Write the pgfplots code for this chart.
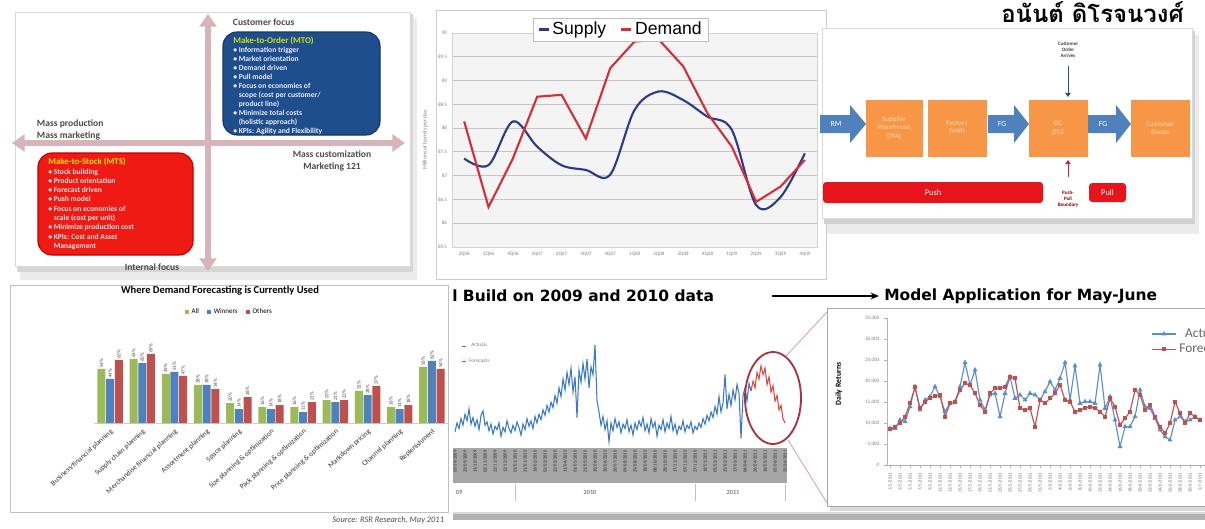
\documentclass[border=0pt]{standalone}
\usepackage{pgfplots}
\usepackage{pgfplotstable}
\pgfplotsset{compat=1.18}
\usepackage{fontspec}
\setmainfont{Carlito}
\newfontfamily\thaifont[Script=Thai]{Loma}
\newfontfamily\arialf{Liberation Sans}
\newfontfamily\dejaf{DejaVu Sans}
\usetikzlibrary{arrows.meta}
\pgfplotsset{/pgf/number format/assume math mode=true}
\definecolor{mtoblue}{HTML}{1F4E8C}
\definecolor{mtsred}{HTML}{F01A14}
\definecolor{quadpink}{HTML}{D6B4B9}
\definecolor{supblue}{HTML}{2B3A8A}
\definecolor{demred}{HTML}{D22F38}
\definecolor{xlgreen}{HTML}{9BBB59}
\definecolor{xlblue}{HTML}{4F81BD}
\definecolor{xlred}{HTML}{C0504D}
\definecolor{procorange}{HTML}{F79646}
\definecolor{procblue}{HTML}{4F81BD}
\definecolor{pushred}{HTML}{E8141B}
\definecolor{tsblue}{HTML}{3C79C2}
\definecolor{tsred}{HTML}{E2463C}
\definecolor{ellred}{HTML}{A8323E}
\definecolor{actblue}{HTML}{5B8FC9}
\definecolor{forred}{HTML}{C0504D}

\pgfplotstableread{
q supply demand
0 87.36 88.14
1 87.22 86.34
2 88.14 87.36
3 87.61 88.66
4 87.22 88.70
5 87.12 87.78
6 87.02 89.26
7 88.38 89.82
8 88.77 89.86
9 88.59 89.30
10 88.24 88.31
11 87.96 87.61
12 86.38 86.45
13 86.55 86.77
14 87.47 87.33
}\sdtable

\pgfplotstableread{
idx all win oth
0 54 44 63
1 64 60 69
2 49 51 47
3 38 38 34
4 20 14 26
5 16 14 18
6 16 11 21
7 23 21 23
8 32 28 37
9 16 14 18
10 56 62 54
}\bardata

\pgfplotstableread{
idx act for
0 8730 8490
1 8730 9130
2 10710 9920
3 10320 11510
4 13890 14680
5 18650 18490
6 13100 13490
7 15480 15080
8 16270 15870
9 18650 16430
10 16270 16670
11 12700 11510
12 14680 14680
13 15080 15080
14 18650 17860
15 24370 19440
16 19050 19050
17 22620 17060
18 15480 14290
19 13100 12700
20 16670 17060
21 17060 18250
22 11510 18250
23 17060 18650
24 21030 21030
25 15870 20630
26 16670 13490
27 15480 13100
28 17060 13490
29 16670 9130
30 15480 15480
31 17460 14680
32 19840 15870
33 17860 17060
34 20630 19050
35 24370 15480
36 15480 15080
37 23570 12700
38 14680 13100
39 15080 13490
40 15080 13890
41 14680 13490
42 23810 12700
43 13490 11510
44 16270 15870
45 10710 13890
46 4370 9520
47 9130 11110
48 9130 12700
49 11510 17860
50 17860 16670
51 13890 13100
52 13490 14290
53 11110 11510
54 8330 9130
55 6750 7540
56 5950 9920
57 10710 15080
58 11510 12300
59 10320 9920
60 10710 12300
61 11510 11510
62 10710 10710
}\afdata

\begin{document}
\begin{tikzpicture}[x=0.25mm,y=0.25mm]
\useasboundingbox (0,0) rectangle (1205,528);
\clip (0,0) rectangle (1205,528);
\begin{scope}[shift={(0,528)},yscale=-1]
\fill[white] (0,0) rectangle (1205,528);
% ---------- top-left quadrant panel
\fill[black!8] (20,18) rectangle (417,280);
\fill[black!16] (17,14) rectangle (413,272);
\fill[white, draw=black!15] (15,12) rectangle (410,266);
\draw[quadpink, line width=3.6pt, {Triangle[width=12pt,length=9pt]}-{Triangle[width=12pt,length=9pt]}] (12,143) -- (405,143);
\draw[quadpink, line width=3.6pt, {Triangle[width=12pt,length=9pt]}-{Triangle[width=12pt,length=9pt]}] (208,14) -- (208,271);
\fill[mtoblue, draw=mtoblue!70!black, line width=0.8pt, rounded corners=3.5mm] (223,32) rectangle (380,135);
\node[anchor=north west, align=left, font=\bfseries\fontsize{5.4}{6.4}\selectfont, text=white!92!blue, inner sep=0pt] at (233,37)
 {\textcolor{yellow!80!green}{\fontsize{6.3}{6.4}\selectfont Make-to-Order (MTO)}\\
  \textbullet\ Information trigger\\
  \textbullet\ Market orientation\\
  \textbullet\ Demand driven\\
  \textbullet\ Pull model\\
  \textbullet\ Focus on economies of\\
  \phantom{\textbullet\ }scope (cost per customer/\\
  \phantom{\textbullet\ }product line)\\
  \textbullet\ Minimize total costs\\
  \phantom{\textbullet\ }(holistic approach)\\
  \textbullet\ KPIs: Agility and Flexibility};
\fill[mtsred, draw=red!75!black, line width=0.8pt, rounded corners=3.5mm] (38,153) rectangle (193,255);
\node[anchor=north west, align=left, font=\bfseries\fontsize{5.4}{6.6}\selectfont, text=white!90!red, inner sep=0pt] at (48,158)
 {\textcolor{yellow!90!orange}{\fontsize{6.3}{6.6}\selectfont Make-to-Stock (MTS)}\\
  \textbullet\ Stock building\\
  \textbullet\ Product orientation\\
  \textbullet\ Forecast driven\\
  \textbullet\ Push model\\
  \textbullet\ Focus on economies of\\
  \phantom{\textbullet\ }scale (cost per unit)\\
  \textbullet\ Minimize production cost\\
  \textbullet\ KPIs: Cost and Asset\\
  \phantom{\textbullet\ }Management};
\node[anchor=west, font=\bfseries\fontsize{6.8}{8}\selectfont, text=black!70] at (228,22) {Customer focus};
\node[anchor=west, align=left, font=\bfseries\fontsize{6.8}{8}\selectfont, text=black!70] at (32,130) {Mass production\\Mass marketing};
\node[align=center, font=\bfseries\fontsize{6.8}{8}\selectfont, text=black!70] at (332,161) {Mass customization\\Marketing 121};
\node[font=\bfseries\fontsize{6.8}{8}\selectfont, text=black!70] at (152,267) {Internal focus};
% ---------- top-middle frame
\fill[white, draw=black!20] (436,10) rectangle (826,279);
% ---------- top-right process panel
\fill[black!8] (827,35) rectangle (1199,234);
\fill[black!18] (824,31) rectangle (1195,224);
\fill[white, draw=black!15] (822,28) rectangle (1192,218);
\node[anchor=east, font=\thaifont\bfseries\fontsize{17}{18}\selectfont, inner sep=0pt] at (1184,12) {อนันต์ ดิโรจนวงศ์};
\fill[procblue] (820,115) -- (850,115) -- (850,105) -- (866,124) -- (850,143) -- (850,133) -- (820,133) -- cycle;
\fill[procorange] (866,100) rectangle (923,157);
\fill[procorange] (928,100) rectangle (987,157);
\fill[procblue] (988,115) -- (1014,115) -- (1014,105) -- (1029,124) -- (1014,143) -- (1014,133) -- (988,133) -- cycle;
\fill[procorange] (1029,100) rectangle (1088,157);
\fill[procblue] (1088,115) -- (1116,115) -- (1116,105) -- (1131,124) -- (1116,143) -- (1116,133) -- (1088,133) -- cycle;
\fill[procorange] (1131,100) rectangle (1190,157);
\node[text=white, font=\fontsize{5.5}{6}\selectfont] at (836,124) {RM};
\node[text=white, font=\fontsize{5.5}{6}\selectfont] at (1002,124) {FG};
\node[text=white, font=\fontsize{5.5}{6}\selectfont] at (1103,124) {FG};
\node[align=center, text=orange!30, font=\fontsize{5}{6}\selectfont] at (894,128) {Supplier\\Warehouse\\(RM)};
\node[align=center, text=orange!30, font=\fontsize{5}{6}\selectfont] at (957,128) {Factory\\(WIP)};
\node[align=center, text=orange!30, font=\fontsize{5}{6}\selectfont] at (1058,128) {DC\\(FG)};
\node[align=center, text=orange!30, font=\fontsize{5}{6}\selectfont] at (1160,128) {Customer\\Stores};
\node[align=center, text=black!75, font=\bfseries\fontsize{3.6}{4.4}\selectfont] at (1068,50) {Customer\\Order\\Arrives};
\draw[-{Triangle[width=4pt,length=3pt]}, black!40!procblue, line width=0.7pt] (1068,66) -- (1068,97);
\draw[-{Triangle[width=4pt,length=3pt]}, ellred, line width=0.7pt] (1068,177) -- (1068,160);
\node[align=center, text=red!55!black, font=\bfseries\fontsize{3.6}{4.4}\selectfont] at (1068,199) {Push-\\Pull\\Boundary};
\fill[pushred, rounded corners=0.8mm] (823,182) rectangle (1043,203);
\node[text=white, font=\fontsize{6}{7}\selectfont] at (933,192.5) {Push};
\fill[pushred, rounded corners=0.8mm] (1089,183) rectangle (1126,202);
\node[text=white, font=\fontsize{6}{7}\selectfont] at (1107.5,192.5) {Pull};
% ---------- bottom-left panel
\fill[white, draw=black!25] (10,285) rectangle (448,512);
\node[anchor=east, font=\itshape\fontsize{6}{7}\selectfont, text=black!70] at (449,520) {Source: RSR Research, May 2011};
% ---------- bottom-right big panel
\fill[black!30] (453,509) rectangle (1205,520);
\fill[black!15] (453,505) rectangle (1205,514);
\fill[white] (450,283) rectangle (1205,512);
\fill[black!15] (830,311) rectangle (1210,511);
\fill[white, draw=black!35, line width=0.6pt] (827,308) rectangle (1215,506);
\node[anchor=west, font=\dejaf\bfseries\fontsize{11}{12}\selectfont, inner sep=0pt] at (452,296) {l Build on 2009 and 2010 data};
\draw[-{Stealth[length=6pt,width=5pt]}, line width=1pt] (772,296) -- (879,296);
\node[anchor=west, font=\dejaf\bfseries\fontsize{11}{12}\selectfont, inner sep=0pt] at (884,296) {Model Application for May-June};
\end{scope}

% ================= Supply / Demand
\begin{axis}[at={(113mm,70.25mm)}, anchor=south west, scale only axis,
  width=91.25mm, height=53.5mm,
  xmin=-0.5, xmax=14.5, ymin=85.5, ymax=90,
  xtick={0,...,14},
  xticklabels={2Q06,3Q06,4Q06,1Q07,2Q07,3Q07,4Q07,1Q08,2Q08,3Q08,4Q08,1Q09,2Q09,3Q09,4Q09},
  ytick={85.5,86,86.5,87,87.5,88,88.5,89,89.5,90},
  ymajorgrids, grid style={draw=gray!45, line width=0.7pt},
  axis background/.style={fill=gray!9},
  axis line style={draw=gray!35},
  major tick style={draw=none},
  tick label style={font=\fontsize{3.6}{4}\selectfont, text=gray},
  ylabel={Millions of barrels per day},
  ylabel style={font=\fontsize{4}{5}\selectfont, text=gray, at={(axis description cs:-0.074,0.5)}, anchor=center},
  legend style={at={(0.463,1.016)}, anchor=center, legend columns=2, draw=gray!50, fill=white,
    font=\arialf\fontsize{12.5}{14}\selectfont, inner xsep=3pt, inner ysep=1pt,
    /tikz/every even column/.append style={column sep=8pt}},
  legend image code/.code={\draw[#1, line width=1.6pt] (0pt,0pt) -- (7pt,0pt);},
]
\addplot[supblue, line width=1.5pt, smooth, tension=0.55] table[x=q, y=supply] {\sdtable};
\addlegendentry{Supply}
\addplot[demred, line width=1.5pt] table[x=q, y=demand] {\sdtable};
\addlegendentry{Demand}
\end{axis}

% ================= Bar chart
\begin{axis}[at={(23.5mm,26.25mm)}, anchor=south west, scale only axis,
  width=88.5mm, height=22.5mm,
  ybar=0.5pt, bar width=2mm,
  ymin=0, ymax=90, xmin=-0.5, xmax=10.5,
  axis x line=bottom, axis y line=none,
  x axis line style={draw=gray!40, -},
  xtick=data, major tick style={draw=none},
  xticklabels={Business/financial planning,Supply chain planning,Merchandise financial planning,Assortment planning,Space planning,Size planning \& optimization,Pack planning \& optimization,Price planning \& optimization,Markdown pricing,Channel planning,Replenishment},
  xticklabel style={rotate=42, anchor=north east, font=\fontsize{5.2}{6}\selectfont, inner sep=1pt, text=black!80},
  nodes near coords={\pgfmathprintnumber{\pgfplotspointmeta}\%},
  nodes near coords style={rotate=90, anchor=west, font=\fontsize{3.6}{4}\selectfont, inner sep=0.6pt, text=black!70},
  title={Where Demand Forecasting is Currently Used},
  title style={at={(0.356,1.378)}, anchor=center, yshift=0pt, font=\bfseries\fontsize{7.5}{8}\selectfont},
  legend style={at={(0.384,1.233)}, anchor=center, legend columns=3, draw=none, fill=none,
    font=\fontsize{5}{6}\selectfont, /tikz/every even column/.append style={column sep=4pt}},
  legend image code/.code={\fill[#1] (0pt,-1.3pt) rectangle (2.6pt,1.3pt);},
]
\addplot[fill=xlgreen, draw=none] table[x=idx,y=all] {\bardata}; \addlegendentry{All}
\addplot[fill=xlblue, draw=none] table[x=idx,y=win] {\bardata}; \addlegendentry{Winners}
\addplot[fill=xlred, draw=none] table[x=idx,y=oth] {\bardata}; \addlegendentry{Others}
\end{axis}

% ================= Time series
\begin{axis}[at={(113.75mm,20.75mm)}, anchor=south west, scale only axis,
  width=82.5mm, height=27.5mm,
  xmin=0, xmax=165, ymin=0, ymax=100, clip=false, axis on top,
  axis x line=bottom, axis y line=none,
  x axis line style={draw=none},
  xtick={0,5,...,165}, major tick style={draw=none},
  xticklabels={03/09/2009,23/09/2009,13/10/2009,02/11/2009,22/11/2009,12/12/2009,01/01/2010,21/01/2010,10/02/2010,02/03/2010,22/03/2010,11/04/2010,01/05/2010,21/05/2010,10/06/2010,30/06/2010,20/07/2010,09/08/2010,29/08/2010,18/09/2010,08/10/2010,28/10/2010,17/11/2010,07/12/2010,27/12/2010,16/01/2011,05/02/2011,25/02/2011,17/03/2011,06/04/2011,26/04/2011,16/05/2011,05/06/2011,25/06/2011},
  xticklabel style={rotate=90, anchor=east, font=\fontsize{3.3}{3.5}\selectfont, text=black!85, inner sep=1.5pt},
  legend style={at={(0.005,0.98)}, anchor=north west, draw=none, fill=none,
    font=\fontsize{3.8}{4}\selectfont, text=gray, row sep=3pt},
  legend image code/.code={\draw[#1, line width=0.6pt] (0pt,0pt) -- (3pt,0pt);},
]
\fill[gray!70] (axis cs:-1,-2.5) rectangle (axis cs:166,-34.5);
\draw[gray!50, line width=0.5pt] (axis cs:30,-35) -- (axis cs:30,-51);
\draw[gray!50, line width=0.5pt] (axis cs:120,-35) -- (axis cs:120,-51);
\draw[gray!50, line width=0.5pt] (axis cs:165,-35) -- (axis cs:165,-51);
\node[font=\bfseries\fontsize{4.5}{5}\selectfont, text=gray] at (axis cs:2,-43) {09};
\node[font=\bfseries\fontsize{4.5}{5}\selectfont, text=gray] at (axis cs:67.5,-43) {2010};
\node[font=\bfseries\fontsize{4.5}{5}\selectfont, text=gray] at (axis cs:139,-43) {2011};
\addplot[tsblue, line width=0.75pt] coordinates {(0,12)(1,20)(2,15)(3,24)(4,18)(5,28)(6,22)(7,33)(8,19)(9,25)(10,17)(11,23)(12,14)(13,27)(14,31)(15,18)(16,21)(17,13)(18,19)(19,10)(20,17)(21,14)(22,20)(23,8)(24,16)(25,12)(26,22)(27,15)(28,11)(29,18)(30,13)(31,21)(32,16)(33,9)(34,19)(35,14)(36,24)(37,17)(38,22)(39,15)(40,26)(41,20)(42,28)(43,23)(44,32)(45,27)(46,36)(47,30)(48,39)(49,34)(50,45)(51,38)(52,52)(53,44)(54,60)(55,50)(56,66)(57,55)(58,70)(59,48)(60,62)(61,25)(62,68)(63,57)(64,74)(65,60)(66,78)(67,52)(68,71)(69,64)(70,91)(71,40)(72,30)(73,18)(74,26)(75,14)(76,22)(77,3)(78,20)(79,13)(80,24)(81,16)(82,21)(83,11)(84,19)(85,15)(86,23)(87,12)(88,18)(89,9)(90,20)(91,14)(92,22)(93,17)(94,25)(95,13)(96,19)(97,11)(98,24)(99,16)(100,21)(101,8)(102,18)(103,14)(104,23)(105,12)(106,20)(107,15)(108,26)(109,13)(110,19)(111,10)(112,17)(113,14)(114,22)(115,12)(116,18)(117,15)(118,21)(119,11)(120,17)(121,14)(122,20)(123,16)(124,24)(125,19)(126,27)(127,22)(128,30)(129,25)(130,35)(131,28)(132,44)(133,30)(134,38)(135,64)(136,33)(137,46)(138,36)(139,50)(140,41)(141,55)(142,47)(143,6)(144,45)(145,52)(146,40)(147,56)(148,49)};
\addlegendentry{Actuals}
\addplot[tsred, line width=0.75pt] coordinates {(148,49)(149,58)(150,52)(151,66)(152,60)(153,72)(154,64)(155,70)(156,55)(157,62)(158,48)(159,54)(160,40)(161,45)(162,32)(163,36)(164,24)(165,20)};
\addlegendentry{Forecasts}
\end{axis}

% ================= Actual vs Forecast
\begin{axis}[at={(221.75mm,15.75mm)}, anchor=south west, scale only axis,
  width=80.25mm, height=36.75mm,
  xmin=-0.6, xmax=63.6, ymin=0, ymax=35000,
  axis lines*=left, axis line style={draw=gray!60},
  ytick={0,5000,...,35000}, scaled y ticks=false,
  yticklabel style={/pgf/number format/1000 sep={,}, font=\fontsize{3.6}{4}\selectfont, text=gray},
  xtick={0,2,...,62},
  xticklabels={1/5/2011,3/5/2011,5/5/2011,7/5/2011,9/5/2011,11/5/2011,13/5/2011,15/5/2011,17/5/2011,19/5/2011,21/5/2011,23/5/2011,25/5/2011,27/5/2011,29/5/2011,31/5/2011,2/6/2011,4/6/2011,6/6/2011,8/6/2011,10/6/2011,12/6/2011,14/6/2011,16/6/2011,18/6/2011,20/6/2011,22/6/2011,24/6/2011,26/6/2011,28/6/2011,30/6/2011,2/7/2011},
  xticklabel style={rotate=90, anchor=east, font=\fontsize{3.3}{3.5}\selectfont, text=gray!90!black},
  major tick style={draw=gray!60}, tick align=outside, major tick length=2pt,
  ylabel={Daily Returns},
  ylabel style={font=\bfseries\fontsize{5.5}{6}\selectfont, at={(axis description cs:-0.15,0.55)}, anchor=center},
  legend style={at={(0.81,0.97)}, anchor=north west, draw=none, fill=none,
    font=\fontsize{9.5}{10}\selectfont, text=gray!80!black, row sep=-1pt},
]
\addplot[actblue, line width=0.8pt, mark=triangle*, mark size=1.3pt] table[x=idx,y=act] {\afdata};
\addlegendentry{Actual}
\addplot[forred, line width=0.8pt, mark=square*, mark size=1pt] table[x=idx,y=for] {\afdata};
\addlegendentry{Forecast}
\end{axis}

\begin{scope}[shift={(0,528)},yscale=-1]
\draw[ellred, line width=1.3pt] (773,398) ellipse [x radius=28, y radius=46];
\draw[ellred!45, line width=0.6pt] (786,356) -- (827,312);
\draw[ellred!45, line width=0.6pt] (788,440) -- (827,503);
\end{scope}
\end{tikzpicture}
\end{document}
